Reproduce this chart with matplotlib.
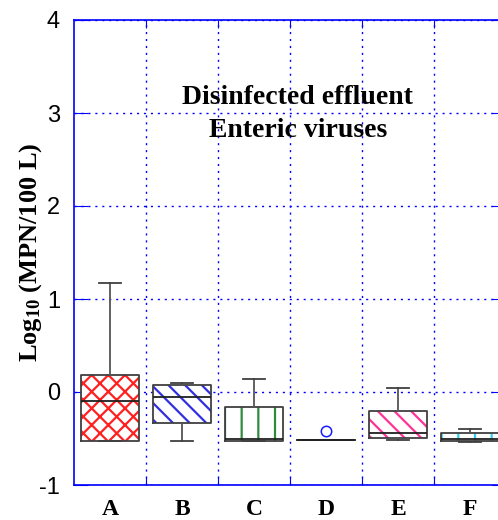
import matplotlib.pyplot as plt
import numpy as np

# box stats (log10 MPN/100 L)
groups = ['A', 'B', 'C', 'D', 'E', 'F']
q1 = [-0.53, -0.33, -0.53, -0.52, -0.49, -0.53]
med = [-0.10, -0.05, -0.50, -0.52, -0.44, -0.50]
q3 = [0.18, 0.08, -0.16, -0.52, -0.20, -0.44]
whis_lo = [-0.53, -0.53, -0.53, -0.52, -0.52, -0.54]
whis_hi = [1.17, 0.10, 0.14, -0.52, 0.04, -0.40]
outliers = [[], [], [], [-0.42], [], []]

hatches = ['xx', '\\\\', '|', '', '\\\\', '|']
hatch_cols = ['#ff2020', '#3030e0', '#2e8b3e', '#ffffff', '#ff3399', '#30d0e8']

plt.rcParams['hatch.linewidth'] = 1.6
plt.rcParams['axes.unicode_minus'] = False
plt.rcParams['mathtext.fontset'] = 'custom'
plt.rcParams['mathtext.rm'] = 'Liberation Serif:bold'
plt.rcParams['mathtext.it'] = 'Liberation Serif:bold'
plt.rcParams['mathtext.bf'] = 'Liberation Serif:bold'

stats = []
for i in range(len(groups)):
    stats.append({'label': groups[i], 'q1': q1[i], 'med': med[i], 'q3': q3[i],
                  'whislo': whis_lo[i], 'whishi': whis_hi[i], 'fliers': outliers[i]})

fig = plt.figure(figsize=(4.98, 5.2), dpi=100)
ax = fig.add_axes([74 / 498, 35 / 520, 432 / 498, 465 / 520])

pos = np.arange(1, len(groups) + 1)

# hatched fills first
fill = ax.bxp(stats, positions=pos, widths=0.8, patch_artist=True,
              showcaps=False, showfliers=False,
              boxprops=dict(linewidth=0),
              whiskerprops=dict(linewidth=0), medianprops=dict(linewidth=0))
for b, h, c in zip(fill['boxes'], hatches, hatch_cols):
    b.set_facecolor('white')
    b.set_edgecolor(c)
    b.set_hatch(h)

# outlines on top
ax.bxp(stats, positions=pos, widths=0.8, patch_artist=False,
       boxprops=dict(color='#404040', linewidth=1.3),
       whiskerprops=dict(color='#555555', linewidth=1.3, linestyle='-'),
       capprops=dict(color='#404040', linewidth=1.3),
       medianprops=dict(color='#202020', linewidth=1.3),
       flierprops=dict(marker='o', markerfacecolor='none', markeredgecolor='#1a1aff',
                       markersize=7.5, markeredgewidth=1.1),
       capwidths=0.3)

ax.set_xlim(0.5, 6.5)
ax.set_ylim(-1, 4)

ax.set_xticks(np.arange(1.5, 6.5, 1))
ax.set_xticklabels([])
ax.set_xticks(pos, minor=True)
ax.set_xticklabels(groups, minor=True, fontfamily='Liberation Serif',
                   fontweight='bold', fontsize=17)
ax.tick_params(axis='x', which='minor', length=0, pad=10)
ax.tick_params(axis='x', which='major', direction='in', length=6, color='blue',
               top=True)
ax.set_yticks([-1, 0, 1, 2, 3, 4])
ax.tick_params(axis='y', direction='in', length=10, color='blue', right=True,
               labelsize=17, pad=10)
for t in ax.get_yticklabels():
    t.set_fontfamily('Liberation Sans')

ax.grid(True, which='major', color='blue', linestyle=(0, (1.5, 3.5)), linewidth=1)
for s in ax.spines.values():
    s.set_color('blue')
    s.set_linewidth(1.2)

ax.set_ylabel(r'Log$_{\mathbf{10}}$ (MPN/100 L)', fontfamily='Liberation Serif',
              fontweight='bold', fontsize=19)
ax.yaxis.set_label_coords(-0.069, 0.5)

ax.text(3.607, 2.99, 'Disinfected effluent\nEnteric viruses', ha='center', va='center',
        fontfamily='Liberation Serif', fontweight='bold', fontsize=20,
        linespacing=1.42)

fig.savefig('out.png', dpi=100)
